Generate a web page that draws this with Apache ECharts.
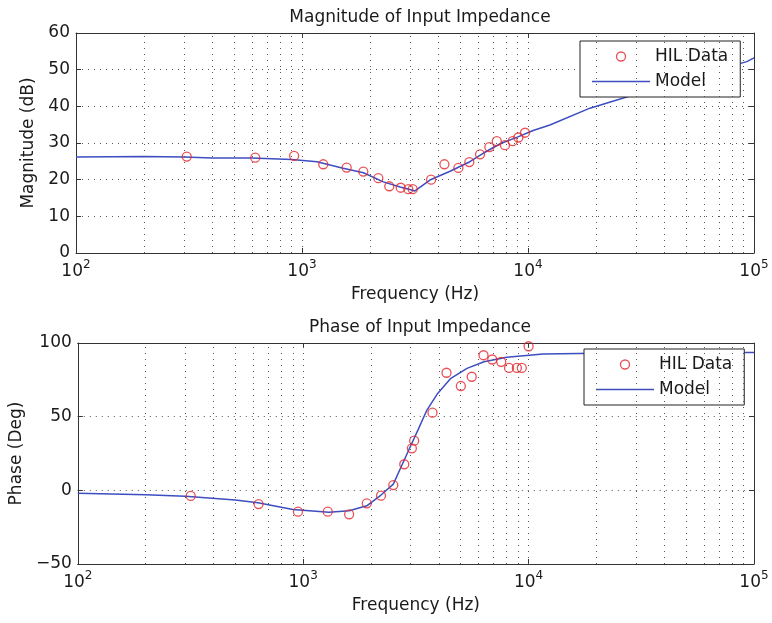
<!DOCTYPE html>
<html lang="en">
<head>
<meta charset="utf-8">
<title>Input Impedance</title>
<script src="https://cdn.jsdelivr.net/npm/echarts@6/dist/echarts.min.js"></script>
<style>
  html, body { margin: 0; padding: 0; background: #fff; }
  #main { width: 772px; height: 623px; }
</style>
</head>
<body>
<div id="main"></div>
<script>
// measured HIL points, magnitude plot
var magFreq = [309, 621, 923, 1242, 1576, 1868, 2176, 2433, 2734, 2953, 3090, 3724, 4266, 4920, 5500, 6134, 6745, 7274, 7911, 8555, 9062, 9700];
var magHil  = [26.3, 26.0, 26.5, 24.2, 23.3, 22.2, 20.4, 18.2, 17.8, 17.4, 17.4, 20.0, 24.2, 23.2, 24.8, 26.9, 28.9, 30.5, 29.4, 30.5, 31.5, 32.8];

// model curve, magnitude
var magModelFreq = [100, 200, 300, 400, 600, 900, 1165, 1520, 1870, 2290, 2720, 3000, 3150, 3680, 4520, 5530, 6330, 7530, 8970, 10540, 12500, 18800, 29200, 50000, 93000, 100000];
var magModel     = [26.2, 26.3, 26.2, 25.9, 25.9, 25.5, 24.9, 23.1, 21.9, 19.4, 18.0, 17.3, 16.9, 19.9, 22.3, 24.9, 27.2, 29.8, 31.6, 33.4, 34.9, 39.5, 43.1, 47.5, 52.2, 53.2];

// measured HIL points, phase plot
var phFreq = [317, 634, 948, 1285, 1599, 1915, 2214, 2511, 2808, 3035, 3107, 3747, 4323, 5005, 5594, 6310, 6900, 7560, 8190, 8870, 9330, 10000];
var phHil  = [-3.8, -9.3, -14.5, -14.5, -16.3, -8.8, -3.6, 3.6, 17.7, 28.5, 33.7, 52.7, 79.8, 70.8, 77.1, 91.7, 88.8, 87.2, 83.1, 83.1, 83.1, 97.8];

// model curve, phase
var phModelFreq = [100, 200, 300, 500, 630, 900, 1300, 1600, 1915, 2214, 2511, 2721, 3010, 3232, 3540, 3950, 4520, 5330, 6340, 8000, 11600, 20000, 50000, 100000];
var phModel     = [-2.0, -3.0, -4.0, -6.5, -8.5, -13.0, -14.8, -13.8, -10.5, -3.2, 4.2, 16.0, 30.8, 41.0, 54.5, 65.8, 76.0, 82.8, 87.3, 90.3, 92.5, 93.0, 93.5, 93.5];

// dotted vertical grid at 2..9 of each decade
var gridFreqs = [];
[100, 1000, 10000].forEach(function (d) {
  for (var k = 1; k <= 9; k++) { if (k * d > 100) gridFreqs.push(k * d); }
});

function zip(xs, ys) { return xs.map(function (x, i) { return [x, ys[i]]; }); }

var FONT = 'DejaVu Sans';
var TXT = '#1a1a1a';
var RED = '#e3262c';
var BLUE = '#3c4ec0';

function xAxisFor(gi) {
  return [{
    type: 'log', logBase: 10, gridIndex: gi, min: 100, max: 100000,
    axisLine: { onZero: false, lineStyle: { color: '#333', width: 1 } },
    axisTick: { inside: true, length: 5, lineStyle: { color: '#333' } },
    splitLine: { show: false },
    axisLabel: {
      color: TXT, margin: 6,
      formatter: function (v) {
        return '{b|10}{s|' + Math.round(Math.log10(v)) + '}';
      },
      rich: {
        b: { fontFamily: FONT, fontSize: 17, color: TXT, verticalAlign: 'bottom' },
        s: { fontFamily: FONT, fontSize: 12, color: TXT, verticalAlign: 'bottom', padding: [0, 0, 9, 0] }
      }
    },
    name: 'Frequency (Hz)', nameLocation: 'middle', nameGap: 33,
    nameTextStyle: { fontFamily: FONT, fontSize: 17, color: TXT }
  }, {
    type: 'log', logBase: 10, gridIndex: gi, min: 100, max: 100000, position: 'top',
    axisLine: { onZero: false, lineStyle: { color: '#333', width: 1 } },
    axisTick: { inside: true, length: 5, lineStyle: { color: '#333' } },
    axisLabel: { show: false }, splitLine: { show: false }
  }];
}

function yAxisFor(gi, min, max, step, name, gap) {
  return [{
    type: 'value', gridIndex: gi, min: min, max: max, interval: step,
    axisLine: { show: true, onZero: false, lineStyle: { color: '#333', width: 1 } },
    axisTick: { show: true, inside: true, length: 5, lineStyle: { color: '#333' } },
    splitLine: { show: true, lineStyle: { color: '#555', type: [1, 5], width: 1 } },
    axisLabel: {
      fontFamily: FONT, fontSize: 17, color: TXT, margin: 6,
      formatter: function (v) { return String(v).replace('-', '\u2212'); }
    },
    name: name, nameLocation: 'middle', nameGap: gap,
    nameTextStyle: { fontFamily: FONT, fontSize: 17, color: TXT }
  }, {
    type: 'value', gridIndex: gi, min: min, max: max, interval: step, position: 'right',
    axisLine: { show: true, onZero: false, lineStyle: { color: '#333', width: 1 } },
    axisTick: { show: true, inside: true, length: 5, lineStyle: { color: '#333' } },
    axisLabel: { show: false }, splitLine: { show: false }
  }];
}

var gridLines = {
  silent: true, symbol: 'none', animation: false,
  label: { show: false },
  lineStyle: { color: '#555', type: [1, 5], width: 1 },
  emphasis: { disabled: true },
  data: gridFreqs.map(function (f) { return { xAxis: f }; })
};

function hilSeries(xi, yi, data) {
  return {
    name: 'HIL Data', type: 'scatter', xAxisIndex: xi, yAxisIndex: yi, data: data,
    symbol: 'circle', symbolSize: 9, z: 4,
    itemStyle: { color: 'rgba(0,0,0,0)', borderColor: RED, borderWidth: 1.3 }
  };
}

function modelSeries(xi, yi, data) {
  return {
    name: 'Model', type: 'line', xAxisIndex: xi, yAxisIndex: yi, data: data,
    symbol: 'none', z: 3,
    lineStyle: { color: BLUE, width: 1.5 },
    itemStyle: { color: BLUE },
    markLine: gridLines
  };
}

function legendAt(left, top) {
  return {
    orient: 'vertical', left: left, top: top,
    data: [
      { name: 'HIL Data', icon: 'circle', itemStyle: { color: 'rgba(0,0,0,0)', borderColor: RED, borderWidth: 1.3 } },
      { name: 'Model', icon: 'path://M0,0h58v1.5h-58z', itemStyle: { color: BLUE, borderWidth: 0 } }
    ],
    backgroundColor: '#fff', borderColor: '#222', borderWidth: 1,
    padding: [7, 12, 7, 12], itemGap: 8, itemWidth: 58, itemHeight: 9,
    selectedMode: false,
    textStyle: { fontFamily: FONT, fontSize: 17, color: TXT, lineHeight: 17 }
  };
}

var chart = echarts.init(document.getElementById('main'), null, { renderer: 'canvas' });

chart.setOption({
  animation: false,
  backgroundColor: '#fff',
  title: [
    { text: 'Magnitude of Input Impedance', left: 415, textAlign: 'center', top: 4,
      textStyle: { fontFamily: FONT, fontSize: 17, fontWeight: 'normal', color: TXT } },
    { text: 'Phase of Input Impedance', left: 415, textAlign: 'center', top: 314,
      textStyle: { fontFamily: FONT, fontSize: 17, fontWeight: 'normal', color: TXT } }
  ],
  legend: [legendAt(580, 41), legendAt(584, 349)],
  grid: [
    { left: 76, right: 18, top: 33, height: 220, show: true, backgroundColor: '#fff', borderWidth: 0 },
    { left: 76, right: 18, top: 343, height: 221, show: true, backgroundColor: '#fff', borderWidth: 0 }
  ],
  xAxis: xAxisFor(0).concat(xAxisFor(1)),
  yAxis: yAxisFor(0, 0, 60, 10, 'Magnitude (dB)', 37).concat(yAxisFor(1, -50, 100, 50, 'Phase (Deg)', 47)),
  series: [
    modelSeries(0, 0, zip(magModelFreq, magModel)),
    hilSeries(0, 0, zip(magFreq, magHil)),
    modelSeries(2, 2, zip(phModelFreq, phModel)),
    hilSeries(2, 2, zip(phFreq, phHil))
  ]
});
</script>
</body>
</html>
